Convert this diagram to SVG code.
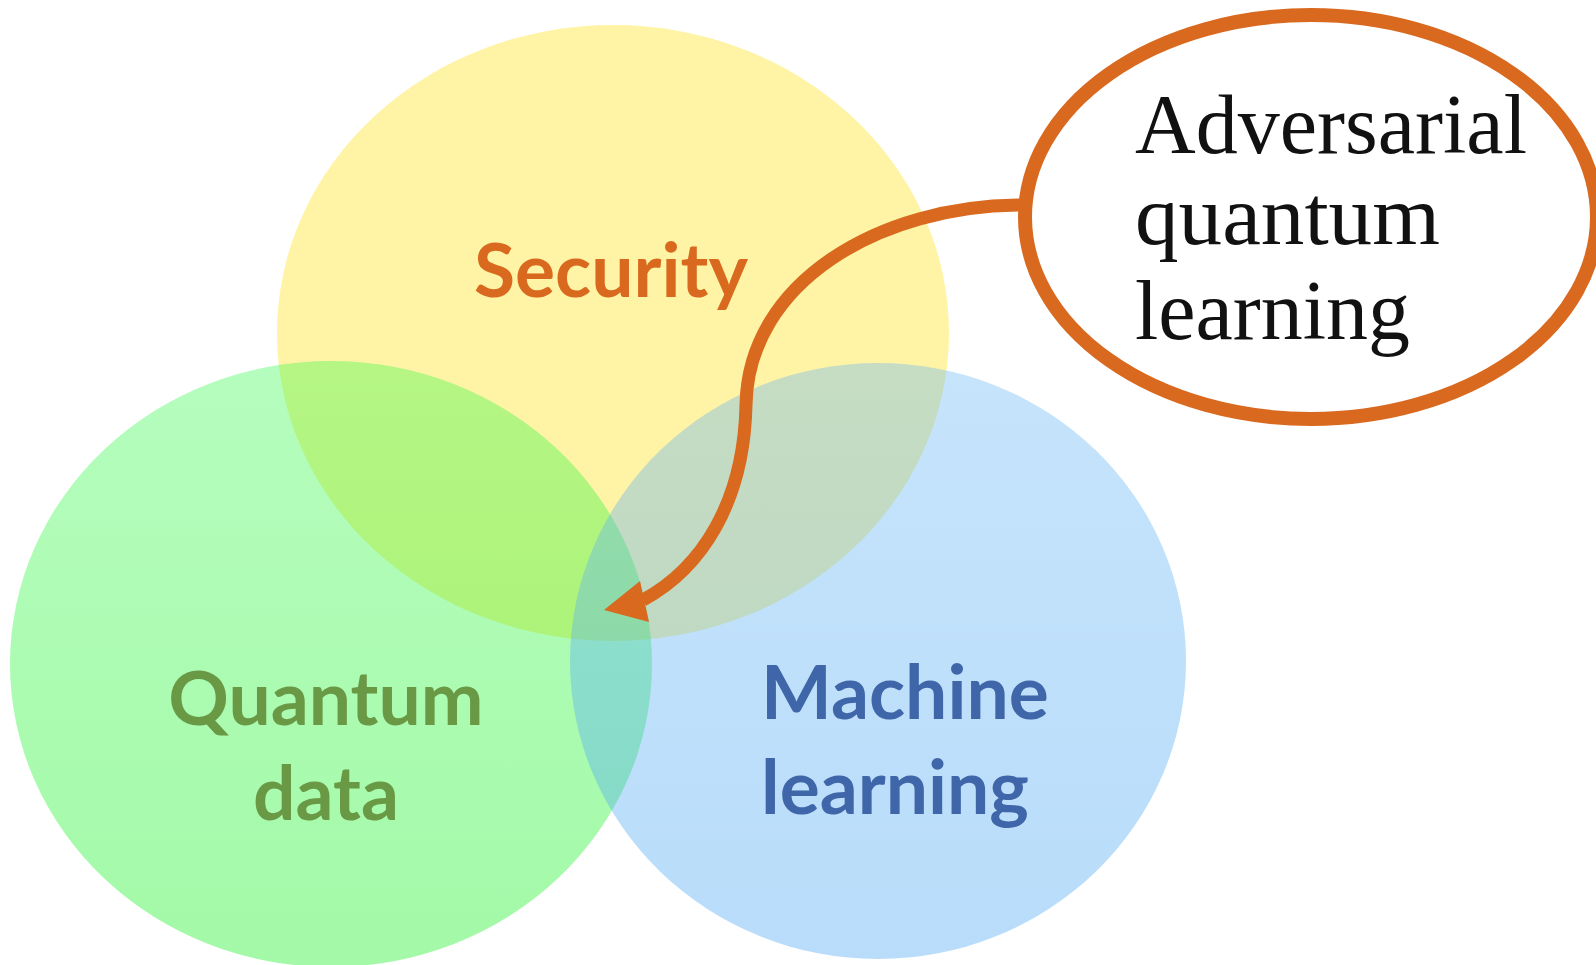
<svg xmlns="http://www.w3.org/2000/svg" width="1596" height="965" viewBox="0 0 1596 965">
  <style>
    .lbl { font-family: Lato, "Open Sans", sans-serif; font-weight: 700; font-size: 75px; }
    .tex { font-family: "Liberation Serif", "DejaVu Serif", serif; font-size: 84px; fill: #111111; }
    .orange { fill: #D9691F; }
  </style>
  <defs>
    <linearGradient id="gGreen" x1="0" y1="0" x2="0" y2="1">
      <stop offset="0" stop-color="rgb(50,250,75)"/>
      <stop offset="1" stop-color="rgb(0,239,11)"/>
    </linearGradient>
    <linearGradient id="gBlue" x1="0" y1="0" x2="0" y2="1">
      <stop offset="0" stop-color="rgb(105,184,245)"/>
      <stop offset="1" stop-color="rgb(68,163,242)"/>
    </linearGradient>
  </defs>
  <rect width="1596" height="965" fill="#ffffff"/>

  <g id="security">
    <ellipse cx="613" cy="333" rx="336" ry="308" fill="#FFF3A5"/>
  </g>
  <g id="quantum-data">
    <ellipse cx="331" cy="664" rx="321" ry="303" fill="url(#gGreen)" fill-opacity="0.36"/>
  </g>
  <g id="machine-learning">
    <ellipse cx="878" cy="661" rx="308" ry="298" fill="url(#gBlue)" fill-opacity="0.38"/>
  </g>

  <g id="labels">
    <text class="lbl orange" x="611" y="297" text-anchor="middle">Security</text>
    <text class="lbl" fill="#6A9946" x="326" y="725" text-anchor="middle">Quantum</text>
    <text class="lbl" fill="#6A9946" x="326" y="820" text-anchor="middle">data</text>
    <text class="lbl" fill="#4066AA" x="761" y="719">Machine</text>
    <text class="lbl" fill="#4066AA" x="761" y="814">learning</text>
  </g>

  <g id="adversarial">
    <ellipse cx="1311" cy="217" rx="286" ry="202" fill="#ffffff" stroke="#D9691F" stroke-width="14"/>
    <text class="tex" x="1135" y="153" textLength="392" lengthAdjust="spacingAndGlyphs">Adversarial</text>
    <text class="tex" x="1135" y="244" textLength="305" lengthAdjust="spacingAndGlyphs">quantum</text>
    <text class="tex" x="1135" y="339" textLength="275" lengthAdjust="spacingAndGlyphs">learning</text>
  </g>

  <g id="connectors">
    <path d="M1022,205 C880,205 748,282 746,405 C744,502 702,568 643,600" fill="none" stroke="#D9691F" stroke-width="13"/>
    <polygon class="orange" points="604,610 640,581 649,622"/>
  </g>
</svg>
